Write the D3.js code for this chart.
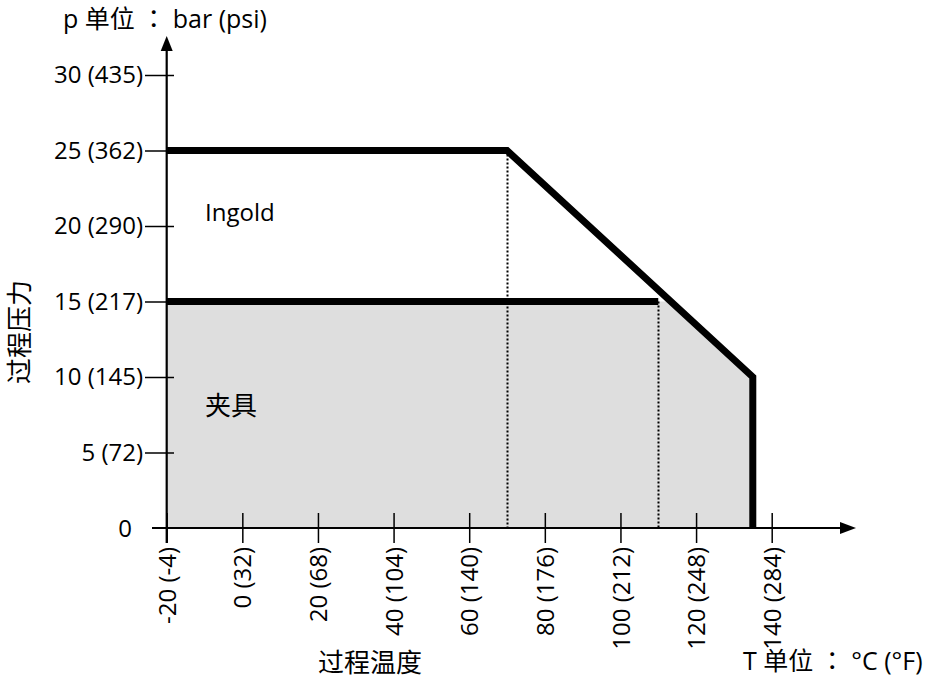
<!DOCTYPE html>
<html>
<head>
<meta charset="utf-8">
<script src="https://cdn.jsdelivr.net/npm/d3@7"></script>
<style>
  html, body { margin: 0; padding: 0; background: #fff; }
  svg text { font-family: "Open Sans", "Noto Sans CJK SC", sans-serif; fill: #000; }
  svg tspan.colon { font-family: "Noto Sans CJK JP", sans-serif; }
</style>
</head>
<body>
<svg id="chart" width="934" height="688"></svg>
<script>
// Pressure ticks (bar) and their bar (psi) labels
const pressureTicks = [5, 10, 15, 20, 25, 30];
const pressureLabels = ["5 (72)", "10 (145)", "15 (217)", "20 (290)", "25 (362)", "30 (435)"];
// Temperature ticks (°C) and their °C (°F) labels
const tempTicks = [-20, 0, 20, 40, 60, 80, 100, 120, 140];
const tempLabels = ["-20 (-4)", "0 (32)", "20 (68)", "40 (104)", "60 (140)", "80 (176)", "100 (212)", "120 (248)", "140 (284)"];

// Pressure/temperature limits: [°C, bar]
const ingoldLimit = [[-20, 25], [70, 25], [135, 10], [135, 0]];
const clampLimit = [[-20, 15], [110, 15]];
const clampArea = [[-20, 0], [-20, 15], [113, 15], [135, 10], [135, 0]];
const dropLines = [[70, 25], [110, 15]];

const svg = d3.select("#chart");

const x = d3.scaleLinear().domain([-20, 140]).range([166.7, 771.7]);
const y = d3.scaleLinear().domain([0, 30]).range([528, 75]);

const line = d3.line().x(d => x(d[0])).y(d => y(d[1]));

// Clamp operating region
svg.append("path")
  .attr("d", line(clampArea) + "Z")
  .attr("fill", "#dedede");

// Dotted drop lines at the break points
svg.selectAll("line.drop")
  .data(dropLines)
  .join("line")
  .attr("class", "drop")
  .attr("x1", d => Math.round(x(d[0])) + 0.5).attr("x2", d => Math.round(x(d[0])) + 0.5)
  .attr("y1", d => y(d[1])).attr("y2", y(0))
  .attr("stroke", "#000")
  .attr("stroke-width", 2)
  .attr("stroke-dasharray", "2,2");

// Axis ticks and labels
const yAxis = d3.axisLeft(y)
  .tickValues(pressureTicks)
  .tickSize(29)
  .tickPadding(2)
  .tickFormat((d, i) => pressureLabels[i]);

const yg = svg.append("g")
  .attr("transform", "translate(174,0)")
  .call(yAxis);
yg.select(".domain").remove();
yg.selectAll(".tick line").attr("stroke", "#000").attr("stroke-width", 1.5);
yg.selectAll(".tick text").style("font-size", "24px").attr("fill", "#000");

const xAxis = d3.axisBottom(x)
  .tickValues(tempTicks)
  .tickSize(30)
  .tickFormat((d, i) => tempLabels[i]);

const xg = svg.append("g")
  .attr("transform", "translate(0,513)")
  .call(xAxis);
xg.select(".domain").remove();
xg.selectAll(".tick line").attr("stroke", "#000").attr("stroke-width", 1.5);
xg.selectAll(".tick text")
  .style("font-size", "24px")
  .attr("fill", "#000")
  .attr("text-anchor", "end")
  .attr("transform", "rotate(-90)")
  .attr("x", -34)
  .attr("y", 0)
  .attr("dy", "0.36em");

// Zero label at the origin
svg.append("text")
  .attr("x", 132).attr("y", y(0))
  .attr("dy", "0.36em")
  .attr("text-anchor", "end")
  .style("font-size", "24px")
  .text("0");

// Axis lines with arrowheads
svg.append("line")
  .attr("x1", 152).attr("x2", 842)
  .attr("y1", y(0)).attr("y2", y(0))
  .attr("stroke", "#000").attr("stroke-width", 2.2);
svg.append("path")
  .attr("d", `M856,${y(0)} L840,${y(0) - 6} L840,${y(0) + 6} Z`)
  .attr("fill", "#000");

svg.append("line")
  .attr("x1", x(-20)).attr("x2", x(-20))
  .attr("y1", 543).attr("y2", 48)
  .attr("stroke", "#000").attr("stroke-width", 2.2);
svg.append("path")
  .attr("d", `M${x(-20)},36 L${x(-20) - 6},51 L${x(-20) + 6},51 Z`)
  .attr("fill", "#000");

// Limit curves
svg.append("path")
  .attr("d", line(clampLimit))
  .attr("fill", "none")
  .attr("stroke", "#000")
  .attr("stroke-width", 7);

svg.append("path")
  .attr("d", line(ingoldLimit))
  .attr("fill", "none")
  .attr("stroke", "#000")
  .attr("stroke-width", 7)
  .attr("stroke-linejoin", "miter");

// Region labels
svg.append("text").attr("x", 205).attr("y", 221)
  .style("font-size", "24px").text("Ingold");
svg.append("text").attr("x", 205).attr("y", 415)
  .style("font-size", "26px").text("夹具");

// Unit titles with a centred full-width colon
function unitTitle(xPos, yPos, before, after) {
  const t = svg.append("text").attr("x", xPos).attr("y", yPos).style("font-size", "25px");
  t.append("tspan").text(before);
  t.append("tspan").attr("class", "colon").text("：");
  t.append("tspan").text(after);
}
unitTitle(63, 28, "p 单位 ", " bar (psi)");
unitTitle(743, 670, "T 单位 ", " °C (°F)");

// Axis titles
svg.append("text").attr("x", 370).attr("y", 672)
  .attr("text-anchor", "middle")
  .style("font-size", "26px").text("过程温度");
svg.append("text")
  .attr("transform", "translate(29,332) rotate(-90)")
  .attr("text-anchor", "middle")
  .style("font-size", "26px").text("过程压力");
</script>
</body>
</html>
